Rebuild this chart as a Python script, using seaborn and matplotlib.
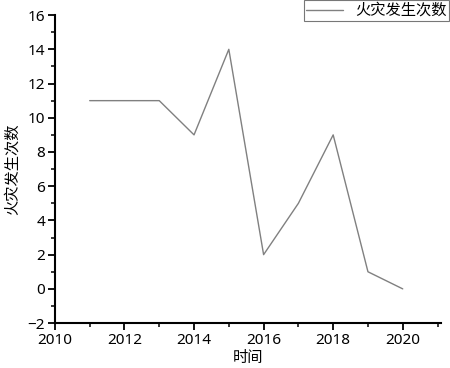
import numpy as np
import pandas as pd
import seaborn as sns
import matplotlib
matplotlib.use('Agg')
import matplotlib.pyplot as plt
from matplotlib.ticker import MultipleLocator

years=[2011,2012,2013,2014,2015,2016,2017,2018,2019,2020]
counts=[11,11,11,9,14,2,5,9,1,0]
label='火灾发生次数'

sns.set_style('ticks',{'axes.edgecolor':'black','xtick.color':'black','ytick.color':'black',
                       'text.color':'black','axes.labelcolor':'black'})
plt.rcParams['font.family']=['Noto Sans','Noto Sans CJK SC','DejaVu Sans']
cjk=['Noto Sans CJK SC','DejaVu Sans']

df=pd.DataFrame({'时间':years,label:counts})
fig=plt.figure(figsize=(4.5,3.68),dpi=100)
ax=fig.add_axes([0.122,0.122,0.858,0.837])
sns.lineplot(data=df,x='时间',y=label,color='#808080',linewidth=1.0,ax=ax,label=label)
ax.set_xlim(2010,2021.1)
ax.set_ylim(-2,16)
ax.xaxis.set_major_locator(MultipleLocator(2))
ax.xaxis.set_minor_locator(MultipleLocator(1))
ax.yaxis.set_major_locator(MultipleLocator(2))
ax.yaxis.set_minor_locator(MultipleLocator(1))
ax.tick_params(which='major',direction='out',length=5,width=1.3,labelsize=11,pad=2)
ax.tick_params(which='minor',direction='out',length=3,width=1.1)
for s in ['left','bottom']:
    ax.spines[s].set_linewidth(1.5)
sns.despine(ax=ax)
ax.set_xlabel('时间',family=cjk,fontsize=11,labelpad=1)
ax.set_ylabel(label,family=cjk,fontsize=11,labelpad=5)
leg=ax.legend(loc='upper right',bbox_to_anchor=(1.02,1.05),frameon=True,fancybox=False,
              edgecolor='#555555',prop={'family':cjk,'size':11},handlelength=2.4,
              borderpad=0.15,borderaxespad=0)
leg.get_frame().set_linewidth(0.8)
fig.savefig('out.png',dpi=100)
